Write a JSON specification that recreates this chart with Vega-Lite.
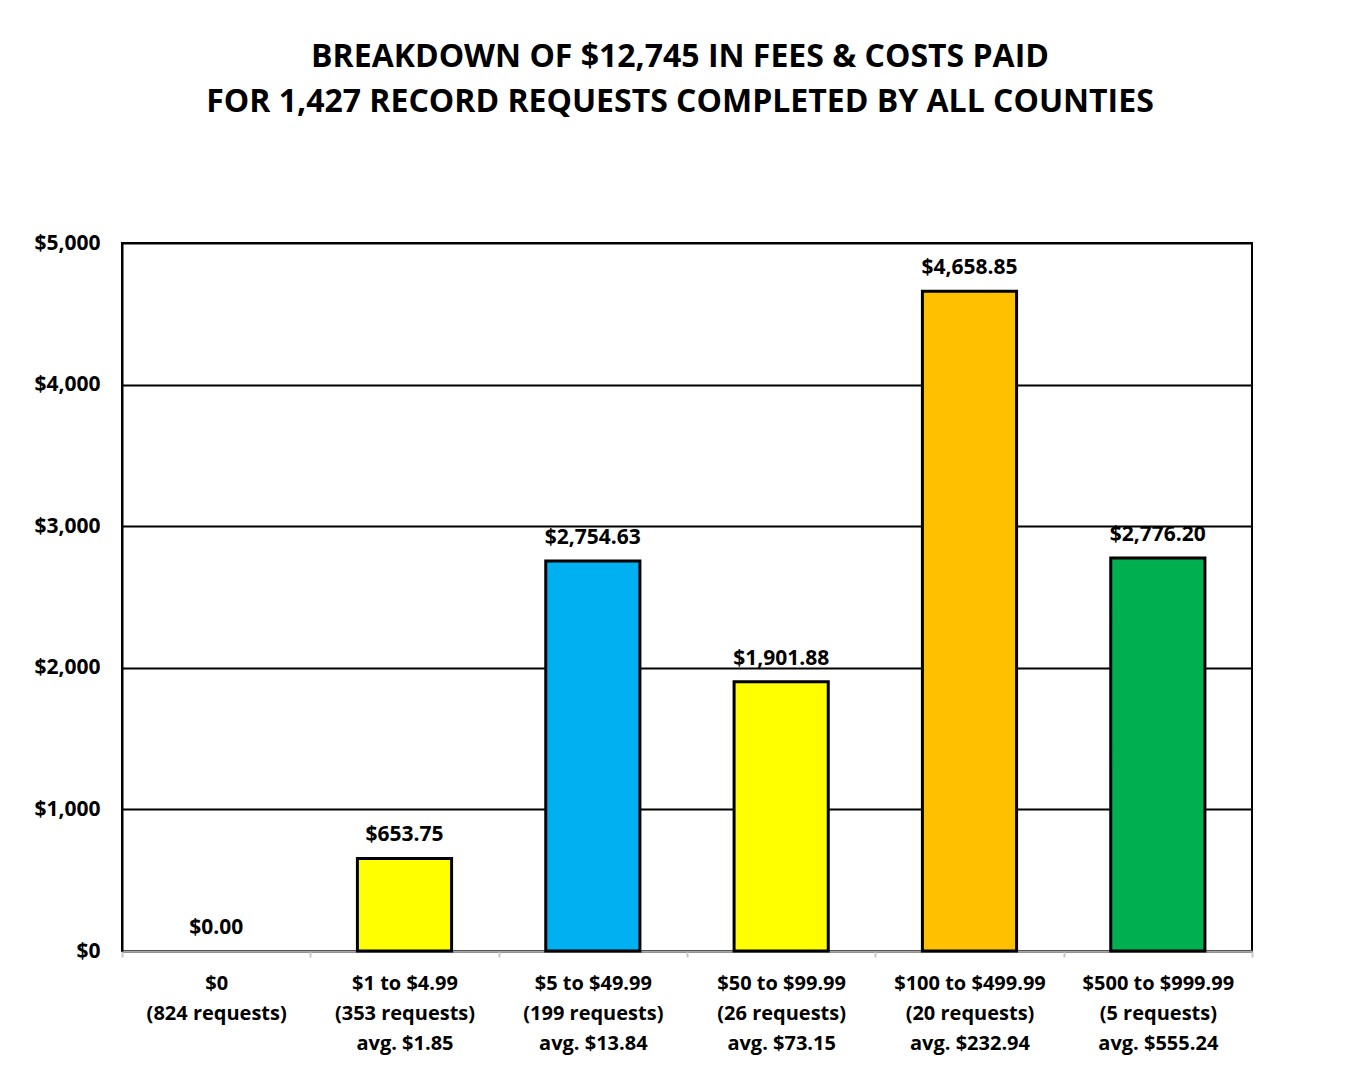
{
  "$schema": "https://vega.github.io/schema/vega-lite/v6.json",
  "width": 1130,
  "height": 708,
  "autosize": "none",
  "padding": {"left": 122, "top": 243, "right": 102, "bottom": 114},
  "background": "white",
  "title": {
    "text": ["BREAKDOWN OF $12,745 IN FEES & COSTS PAID", "FOR 1,427 RECORD REQUESTS COMPLETED BY ALL COUNTIES"],
    "font": "Open Sans",
    "fontSize": 32,
    "fontWeight": "bold",
    "color": "black",
    "anchor": "middle",
    "frame": "group",
    "lineHeight": 45,
    "offset": 113,
    "dx": -7
  },
  "config": {
    "view": {"stroke": "black", "strokeWidth": 2},
    "font": "Open Sans"
  },
  "data": {
    "values": [
      {"cat": "$0|(824 requests)", "total": 0.00, "label": "$0.00"},
      {"cat": "$1 to $4.99|(353 requests)|avg. $1.85", "total": 653.75, "label": "$653.75"},
      {"cat": "$5 to $49.99|(199 requests)|avg. $13.84", "total": 2754.63, "label": "$2,754.63"},
      {"cat": "$50 to $99.99|(26 requests)|avg. $73.15", "total": 1901.88, "label": "$1,901.88"},
      {"cat": "$100 to $499.99|(20 requests)|avg. $232.94", "total": 4658.85, "label": "$4,658.85"},
      {"cat": "$500 to $999.99|(5 requests)|avg. $555.24", "total": 2776.20, "label": "$2,776.20"}
    ]
  },
  "encoding": {
    "x": {
      "field": "cat",
      "type": "nominal",
      "sort": null,
      "scale": {"paddingInner": 0, "paddingOuter": 0},
      "axis": {
        "title": null,
        "labelAngle": 0,
        "labelExpr": "split(datum.label, '|')",
        "labelFont": "Open Sans",
        "labelFontSize": 20,
        "labelFontWeight": "bold",
        "labelColor": "black",
        "labelLineHeight": 30,
        "labelPadding": 16,
        "labelLimit": 300,
        "domainColor": "#A6A6A6",
        "domainWidth": 2,
        "tickColor": "#C8C8C8",
        "tickWidth": 2,
        "tickSize": 6,
        "tickBand": "extent",
        "grid": false
      }
    }
  },
  "layer": [
    {
      "mark": {"type": "bar", "stroke": "black", "width": {"band": 0.5}},
      "encoding": {
        "y": {
          "field": "total",
          "type": "quantitative",
          "scale": {"domain": [0, 5000], "nice": false},
          "axis": {
            "title": null,
            "values": [0, 1000, 2000, 3000, 4000, 5000],
            "format": "$,.0f",
            "labelFont": "Open Sans",
            "labelFontSize": 21,
            "labelFontWeight": "bold",
            "labelColor": "black",
            "labelPadding": 22,
            "ticks": false,
            "domainColor": "black",
            "domainWidth": 2,
            "grid": true,
            "gridColor": "black",
            "gridWidth": 2
          }
        },
        "strokeWidth": {"condition": {"test": "datum.total == 0", "value": 0}, "value": 3},
        "color": {
          "field": "cat",
          "type": "nominal",
          "sort": null,
          "legend": null,
          "scale": {
            "domain": [
              "$0|(824 requests)",
              "$1 to $4.99|(353 requests)|avg. $1.85",
              "$5 to $49.99|(199 requests)|avg. $13.84",
              "$50 to $99.99|(26 requests)|avg. $73.15",
              "$100 to $499.99|(20 requests)|avg. $232.94",
              "$500 to $999.99|(5 requests)|avg. $555.24"
            ],
            "range": ["#FFFF00", "#FFFF00", "#00B0F0", "#FFFF00", "#FFC000", "#00B050"]
          }
        }
      }
    },
    {
      "mark": {"type": "text", "font": "Open Sans", "fontSize": 21, "fontWeight": "bold", "color": "black", "baseline": "middle", "dy": -23},
      "encoding": {
        "y": {"field": "total", "type": "quantitative"},
        "text": {"field": "label"}
      }
    }
  ]
}
